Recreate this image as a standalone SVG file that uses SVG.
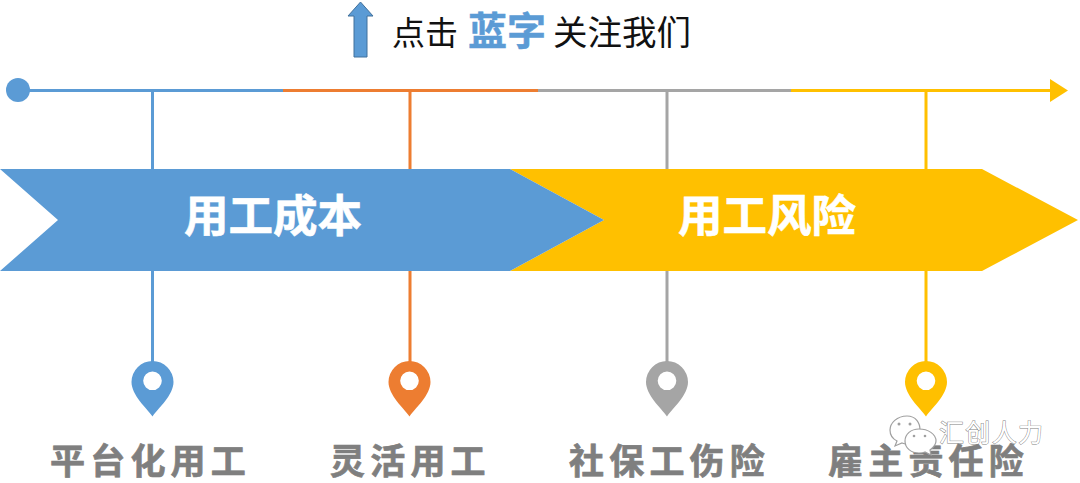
<svg xmlns="http://www.w3.org/2000/svg" width="1080" height="483" viewBox="0 0 1080 483">
<style>
text{font-family:"Liberation Sans","Noto Sans CJK SC",sans-serif}
.l{fill:none;stroke-width:3}
.blue{stroke:#5b9bd5}.orange{stroke:#ed7d31}.gray{stroke:#a5a5a5}.gold{stroke:#ffc000}
.band{font-size:44.500px;font-weight:700;fill:#fff;stroke:#fff;stroke-width:.6px;text-anchor:middle}
.cap{font-size:35px;font-weight:700;fill:#7f7f7f;stroke:#7f7f7f;stroke-width:.7px;letter-spacing:5.200px}
.wm{font-size:25px;fill:#fff;stroke:#808080;stroke-width:.9px;paint-order:stroke}
.ic{fill:#fff;stroke:#a0a0a0;stroke-width:1.200}
</style>
<defs>
<path id="pin" d="M0 28.500C-6 20-21 7-21 -6A21 21 0 0 1 21 -6C21 7 6 20 0 28.500ZM0-16.500A9.300 9.300 0 1 0 0 2.100A9.300 9.300 0 1 0 0-16.500Z" fill-rule="evenodd"/>
</defs>
<g id="connectors">
<path class="l blue" d="M18 90.500H283"/>
<path class="l orange" d="M283 90.500H538"/>
<path class="l gray" d="M538 90.500H791"/>
<path class="l gold" d="M791 90.500H1052"/>
<path d="M1050 79L1068 90.500L1050 102Z" fill="#ffc000"/>
<path class="l blue" d="M152.500 90V170M152.500 270V364"/>
<path class="l orange" d="M410 90V170M410 270V364"/>
<path class="l gray" d="M667 90V170M667 270V364"/>
<path class="l gold" d="M926 90V170M926 270V364"/>
</g>
<g id="subscribe">
<path d="M360.500 2L373 16H367V57H354V16H348Z" fill="#5b9bd5" stroke="#41719c" stroke-width="1"/>
<text x="392" y="45" font-size="33" fill="#111">点击</text>
<text x="468" y="45" font-size="39" font-weight="700" fill="#5b9bd5" stroke="#5b9bd5" stroke-width=".5" textLength="78" lengthAdjust="spacingAndGlyphs">蓝字</text>
<text x="553" y="45" font-size="34.500" fill="#111">关注我们</text>
</g>
<g id="start"><circle cx="18" cy="90" r="12" fill="#5b9bd5"/></g>
<g id="risk"><path d="M510 169H982L1078 220L982 271H510L604 220Z" fill="#ffc000"/><text class="band" x="767" y="232">用工风险</text></g>
<g id="cost"><path d="M0 169H510L604 220L510 271H0L58 220Z" fill="#5b9bd5"/><text class="band" x="273" y="232">用工成本</text></g>
<g id="node1"><use href="#pin" x="152.500" y="388" fill="#5b9bd5"/><text class="cap" x="50" y="474">平台化用工</text></g>
<g id="node2"><use href="#pin" x="409.500" y="388" fill="#ed7d31"/><text class="cap" x="330" y="474">灵活用工</text></g>
<g id="node3"><use href="#pin" x="667" y="388" fill="#a5a5a5"/><text class="cap" x="569" y="474">社保工伤险</text></g>
<g id="node4"><use href="#pin" x="926" y="388" fill="#ffc000"/><text class="cap" x="828" y="474">雇主责任险</text></g>
<g id="watermark">
<path class="ic" d="M907 416C897 416 890 423 890 430C890 435 893 439 897 441L895 446L902 443C904 444 906 444 908 444C915 444 920 436 920 430C920 423 916 416 907 416Z"/>
<path class="ic" d="M919 429C911 429 905 434 905 441C905 448 911 453 919 453C921 453 923 453 925 452L931 455L930 450C934 447 936 444 936 441C936 434 928 429 919 429Z"/>
<circle cx="899" cy="424" r="1.500" fill="#a0a0a0"/><circle cx="910" cy="424" r="1.500" fill="#a0a0a0"/>
<circle cx="914" cy="436" r="1.300" fill="#a0a0a0"/><circle cx="925" cy="436" r="1.300" fill="#a0a0a0"/>
<text class="wm" x="939" y="442" textLength="104">汇创人力</text>
</g>
</svg>
